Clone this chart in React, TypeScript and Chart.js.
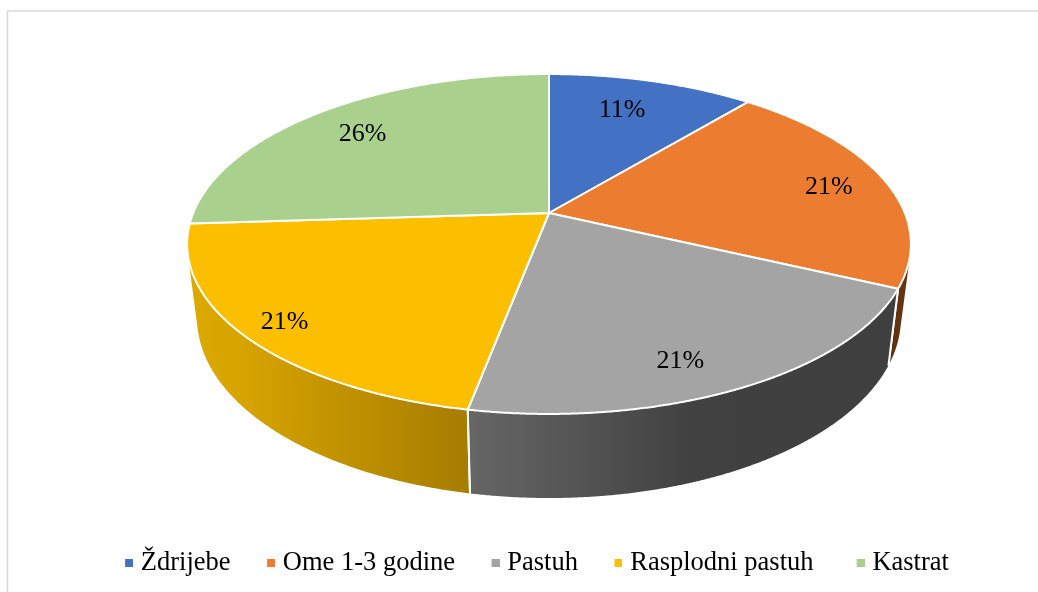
import React, { useEffect, useRef } from "react";
import { Chart, registerables, Plugin } from "chart.js";

Chart.register(...registerables);

const categories = ["Ždrijebe", "Ome 1-3 godine", "Pastuh", "Rasplodni pastuh", "Kastrat"];
const shares = [11, 21, 21, 21, 26];
const sliceColors = ["#4371C3", "#EC7C30", "#A4A4A4", "#FCBF00", "#A9D08D"];

// Side-wall shading per slice, as [position along x (0..1 of wall width), colour]
const wallShades: [number, string][][] = [
  [[0, "#2a4578"], [1, "#2a4578"]],
  [[0, "#5e3010"], [1, "#6a3612"]],
  [[0, "#666666"], [0.52, "#414141"], [1, "#3f3f3f"]],
  [[0, "#dcaa00"], [0.2, "#d6a300"], [1, "#a67c00"]],
  [[0, "#6a8f50"], [1, "#6a8f50"]],
];
const labelReach = [0.76, 0.83, 0.83, 0.885, 0.79];
const labelTurnDeg = [-2, 0.5, 4.5, 0, 0];

const SERIF = "'Liberation Serif', 'Times New Roman', serif";
const centerX = 549;
const topPlane = { A: 355.8, B: 164.3, y0: 213, k: 0.1824 };
const bottomPlane = { A: 346, B: 174, y0: 285.2, k: 0.1824 };

type Plane = typeof topPlane;
const project = (p: Plane, theta: number, r = 1) => {
  const u = Math.sin(theta) * r;
  const v = Math.cos(theta) * r;
  const d = 1 + p.k * v;
  return { x: centerX + (p.A * u) / d, y: p.y0 - (p.B * v) / d };
};

// Legend marker: an 8px square sitting in the right part of a 12px wide image,
// so that the marker-to-text gap matches the reference.
const legendMarker = (color: string) => {
  const c = document.createElement("canvas");
  c.width = 12;
  c.height = 8;
  const g = c.getContext("2d")!;
  g.fillStyle = color;
  g.fillRect(4, 0, 8, 8);
  return c;
};

const pie3d: Plugin<"pie"> = {
  id: "pie3d",
  beforeDraw(chart) {
    const ctx = chart.ctx;
    ctx.save();
    ctx.strokeStyle = "#D9D9D9";
    ctx.lineWidth = 1.5;
    ctx.beginPath();
    ctx.moveTo(7.5, chart.height + 2);
    ctx.lineTo(7.5, 11);
    ctx.lineTo(chart.width + 2, 11);
    ctx.stroke();
    ctx.restore();
  },
  beforeDatasetsDraw(chart) {
    const ctx = chart.ctx;
    const arcs = chart.getDatasetMeta(0).data as any[];
    const ranges = arcs.map((a) => [a.startAngle + Math.PI / 2, a.endAngle + Math.PI / 2]);
    const STEP = (0.25 * Math.PI) / 180;
    ctx.save();

    // side walls: only the generators that face the viewer
    const facing = (t: number) => {
      const a = project(topPlane, t);
      const b = project(topPlane, t + STEP);
      const c = project(bottomPlane, t);
      return (b.x - a.x) * (c.y - a.y) - (b.y - a.y) * (c.x - a.x) < 0;
    };
    [1, 4, 3, 2, 0].forEach((i) => {
      const [s, e] = ranges[i];
      const ts: number[] = [];
      for (let t = s; t <= e + 1e-6; t += STEP) if (facing(Math.min(t, e))) ts.push(Math.min(t, e));
      if (!ts.length) return;
      const tops = ts.map((t) => project(topPlane, t));
      const bottoms = ts.map((t) => project(bottomPlane, t));
      const xs = [...tops, ...bottoms].map((p) => p.x);
      const x0 = Math.min(...xs);
      const x1 = Math.max(...xs);
      const g = ctx.createLinearGradient(x0, 0, x1, 0);
      wallShades[i].forEach(([o, c]) => g.addColorStop(o, c));
      ctx.fillStyle = g;
      ctx.beginPath();
      tops.forEach((p, n) => (n ? ctx.lineTo(p.x, p.y) : ctx.moveTo(p.x, p.y)));
      [...bottoms].reverse().forEach((p) => ctx.lineTo(p.x, p.y));
      ctx.closePath();
      ctx.fill();
      // white seam at the slice edge when it is on the visible side
      ctx.strokeStyle = "#FFFFFF";
      ctx.lineWidth = 2;
      [s, e].forEach((t) => {
        if (!facing(t)) return;
        const a = project(topPlane, t);
        const b = project(bottomPlane, t);
        ctx.beginPath();
        ctx.moveTo(a.x, a.y);
        ctx.lineTo(b.x, b.y);
        ctx.stroke();
      });
    });

    // top faces
    ranges.forEach(([s, e], i) => {
      const c = project(topPlane, 0, 0);
      ctx.beginPath();
      ctx.moveTo(c.x, c.y);
      for (let t = s; t < e; t += STEP) {
        const p = project(topPlane, t);
        ctx.lineTo(p.x, p.y);
      }
      const last = project(topPlane, e);
      ctx.lineTo(last.x, last.y);
      ctx.closePath();
      ctx.fillStyle = sliceColors[i];
      ctx.fill();
      ctx.strokeStyle = "#FFFFFF";
      ctx.lineWidth = 2;
      ctx.lineJoin = "round";
      ctx.stroke();
    });

    // value labels
    ctx.fillStyle = "#000000";
    ctx.font = `26px ${SERIF}`;
    ctx.textAlign = "center";
    ctx.textBaseline = "middle";
    ranges.forEach(([s, e], i) => {
      const p = project(topPlane, (s + e) / 2 + (labelTurnDeg[i] * Math.PI) / 180, labelReach[i]);
      ctx.fillText(`${shares[i]}%`, p.x, p.y + 2);
    });
    ctx.restore();
    return false;
  },
};

export default function App() {
  const ref = useRef<HTMLCanvasElement>(null);
  useEffect(() => {
    const markers = sliceColors.map(legendMarker);
    const chart = new Chart(ref.current!, {
      type: "pie",
      data: {
        labels: categories,
        datasets: [{ data: shares, backgroundColor: sliceColors, borderWidth: 0 }],
      },
      options: {
        responsive: false,
        animation: false,
        layout: { padding: { left: 37.5, bottom: 6 } },
        plugins: {
          tooltip: { enabled: false },
          legend: {
            position: "bottom",
            labels: {
              usePointStyle: true,
              boxWidth: 1,
              boxHeight: 8,
              padding: 38,
              color: "#111111",
              font: { family: SERIF, size: 26.5 },
              generateLabels: (c: Chart) =>
                categories.map((text, index) => ({
                  // the fourth entry is followed by a wider gap in the reference
                  text: index === 3 ? `${text} ` : text,
                  index,
                  fillStyle: sliceColors[index],
                  strokeStyle: sliceColors[index],
                  lineWidth: 0,
                  pointStyle: markers[index],
                  hidden: !c.getDataVisibility(index),
                })),
            },
          },
        },
      },
      plugins: [pie3d],
    });
    return () => chart.destroy();
  }, []);
  return (
    <canvas
      ref={ref}
      width={1038}
      height={592}
      style={{ position: "fixed", left: 0, top: 0, width: 1038, height: 592 }}
    />
  );
}
